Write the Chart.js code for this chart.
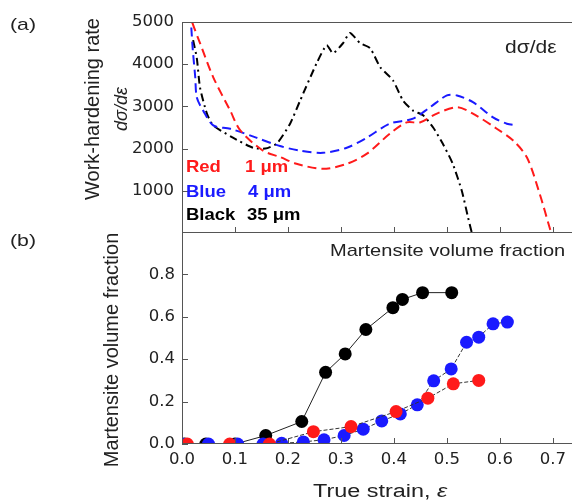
<!DOCTYPE html>
<html>
<head>
<meta charset="utf-8">
<script src="https://cdn.jsdelivr.net/npm/chart.js@4.4.1/dist/chart.umd.min.js"></script>
<style>
  body { margin: 0; background: #fff; }
  #wrap { position: relative; width: 572px; height: 503px; overflow: hidden; font-family: "Liberation Sans", Arial, sans-serif; color: #222; }
  canvas { position: absolute; left: 0; }
  .t { position: absolute; white-space: nowrap; line-height: 1; transform-origin: 0 0; }
  .wide { transform: scaleX(1.18); }
  .rot { transform: translate(-50%, -50%) rotate(-90deg); transform-origin: 50% 50%; }
  .leg { font-weight: bold; font-size: 16.5px; transform: scaleX(1.12); }
</style>
</head>
<body>
<div id="wrap">
  <canvas id="chart1" width="572" height="233" style="top:0px; width:572px; height:233px;"></canvas>
  <canvas id="chart2" width="572" height="282" style="top:221px; width:572px; height:282px;"></canvas>

  <div class="t" style="left:10px; top:16px; font-size:17px; transform:scaleX(1.25);">(a)</div>
  <div class="t" style="left:10px; top:232px; font-size:17px; transform:scaleX(1.25);">(b)</div>
  <div class="t rot" style="left:92px; top:109px; font-size:20px;">Work-hardening rate</div>
  <div class="t rot" style="left:121px; top:109px; font-size:18px; font-style:italic;">dσ/dε</div>
  <div class="t rot" style="left:111px; top:350px; font-size:20px;">Martensite volume fraction</div>
  <div class="t" style="left:505px; top:39px; font-size:17.5px; transform:scaleX(1.2);">dσ/dε</div>
  <div class="t wide" style="left:330px; top:242px; font-size:17px;">Martensite volume fraction</div>
  <div class="t" style="left:313px; top:482px; font-size:18px; transform:scaleX(1.3);">True strain, <i>ε</i></div>

  <div class="t leg" style="left:186px; top:158px; color:#ff1a1a;">Red</div>
  <div class="t leg" style="left:245px; top:158px; color:#ff1a1a;">1 μm</div>
  <div class="t leg" style="left:186px; top:183px; color:#1a1aff;">Blue</div>
  <div class="t leg" style="left:248px; top:183px; color:#1a1aff;">4 μm</div>
  <div class="t leg" style="left:186px; top:206px; color:#000;">Black</div>
  <div class="t leg" style="left:247px; top:206px; color:#000;">35 μm</div>
</div>

<script>
// (a) work-hardening rate curves
const redStrainA = [0.012, 0.019, 0.034, 0.059, 0.091, 0.11, 0.153, 0.185, 0.216, 0.266, 0.311, 0.349, 0.392, 0.424, 0.449, 0.481, 0.519, 0.549, 0.594, 0.625, 0.651, 0.675, 0.694, 0.70];
const redRate = [5300, 5000, 4500, 3690, 2900, 2430, 1950, 1800, 1640, 1520, 1640, 1880, 2350, 2620, 2620, 2830, 2980, 2830, 2470, 2190, 1790, 930, 120, -100];

const blueStrainA = [0.016, 0.02, 0.025, 0.028, 0.04, 0.059, 0.091, 0.14, 0.185, 0.223, 0.266, 0.311, 0.349, 0.392, 0.436, 0.468, 0.5, 0.519, 0.549, 0.587, 0.613, 0.632];
const blueRate = [5200, 4400, 3690, 3210, 2900, 2550, 2470, 2260, 2060, 1950, 1900, 2020, 2260, 2590, 2710, 2980, 3260, 3260, 3100, 2740, 2590, 2550];

const blackStrainA = [0.021, 0.028, 0.034, 0.047, 0.059, 0.096, 0.134, 0.157, 0.179, 0.204, 0.223, 0.254, 0.273, 0.285, 0.304, 0.317, 0.336, 0.355, 0.374, 0.398, 0.417, 0.436, 0.455, 0.474, 0.492, 0.511, 0.528, 0.540, 0.547];
const blackRate = [4570, 4140, 3450, 2830, 2550, 2260, 2020, 2000, 2120, 2590, 3140, 4020, 4450, 4260, 4500, 4740, 4500, 4380, 3930, 3620, 3140, 2900, 2790, 2500, 2120, 1640, 1000, 360, 0];

// (b) martensite volume fraction
const redStrainB = [0.01, 0.09, 0.165, 0.248, 0.319, 0.404, 0.464, 0.512, 0.560];
const redFrac = [0, 0, 0, 0.058, 0.082, 0.153, 0.216, 0.284, 0.30];

const blueStrainB = [0.0, 0.05, 0.105, 0.153, 0.188, 0.229, 0.268, 0.306, 0.342, 0.377, 0.412, 0.444, 0.475, 0.508, 0.537, 0.560, 0.587, 0.614];
const blueFrac = [0, 0, 0, 0, 0.003, 0.01, 0.02, 0.04, 0.07, 0.109, 0.142, 0.185, 0.298, 0.354, 0.48, 0.504, 0.567, 0.575];

const blackStrainB = [0.005, 0.045, 0.1, 0.158, 0.226, 0.271, 0.308, 0.347, 0.398, 0.416, 0.454, 0.509];
const blackFrac = [0, 0, 0, 0.04, 0.106, 0.338, 0.425, 0.540, 0.643, 0.682, 0.714, 0.714];

const xTicks = [0, 0.1, 0.2, 0.3, 0.4, 0.5, 0.6, 0.7];
const rateTicks = [1000, 2000, 3000, 4000, 5000];
const fracTicks = [0, 0.2, 0.4, 0.6, 0.8];

const X_MAX = 0.736;
const AXIS = "#555";
// wider face: the figure's labels are stretched sideways
const FONT = { family: "'DejaVu Sans', sans-serif", size: 16.5 };

function pts(xs, ys) {
  return xs.map((x, i) => ({ x: x, y: ys[i] }));
}

function setTicks(values) {
  return scale => { scale.ticks = values.map(v => ({ value: v })); };
}

function fixBox(w, h) {
  return s => {
    if (w) s.width = w;
    if (h) s.height = h;
    s.paddingTop = 0; s.paddingBottom = 0; s.paddingLeft = 0; s.paddingRight = 0;
  };
}

// short tick marks drawn inward + frame lines
function frame(yTicks, drawTop) {
  return {
    id: "frame",
    afterDraw(chart) {
      const c = chart.ctx, a = chart.chartArea;
      const len = 6;
      c.save();
      c.setLineDash([]);
      c.strokeStyle = AXIS;
      c.lineWidth = 1;
      c.beginPath();
      xTicks.forEach(v => {
        const px = Math.round(chart.scales.x.getPixelForValue(v)) + 0.5;
        c.moveTo(px, a.bottom);
        c.lineTo(px, a.bottom - len);
      });
      yTicks.forEach(v => {
        const py = Math.round(chart.scales.y.getPixelForValue(v)) + 0.5;
        c.moveTo(a.left, py);
        c.lineTo(a.left + len, py);
      });
      c.moveTo(a.left + 0.5, a.top);
      c.lineTo(a.left + 0.5, a.bottom);
      if (drawTop) {
        c.moveTo(a.left, a.top + 0.5);
        c.lineTo(a.right, a.top + 0.5);
      }
      c.moveTo(a.left, a.bottom - 0.5);
      c.lineTo(a.right, a.bottom - 0.5);
      c.stroke();
      c.restore();
    }
  };
}

const ctx1 = document.getElementById("chart1");
const ctx2 = document.getElementById("chart2");

var chart1 = new Chart(ctx1, {
  type: "line",
  data: {
    datasets: [
      {
        data: pts(redStrainA, redRate),
        borderColor: "#ff1a1a",
        borderWidth: 2,
        borderDash: [9, 5],
        pointRadius: 0,
        tension: 0.3,
      },
      {
        data: pts(blueStrainA, blueRate),
        borderColor: "#1a1aff",
        borderWidth: 2,
        borderDash: [9, 5],
        pointRadius: 0,
        tension: 0.3,
      },
      {
        data: pts(blackStrainA, blackRate),
        borderColor: "#000",
        borderWidth: 2,
        borderDash: [8, 4, 2, 4],
        pointRadius: 0,
        tension: 0.2,
      },
    ],
  },
  options: {
    responsive: false,
    animation: false,
    layout: { autoPadding: false, padding: { top: 22, bottom: 0, left: 0, right: 0 } },
    plugins: { legend: { display: false }, tooltip: { enabled: false } },
    scales: {
      x: {
        type: "linear",
        display: false,
        min: 0,
        max: X_MAX,
      },
      y: {
        min: 0,
        max: 5000,
        afterBuildTicks: setTicks(rateTicks),
        afterFit: fixBox(182, 0),
        grid: { display: false, drawTicks: false },
        border: { display: false },
        ticks: { color: "#222", font: FONT, padding: 8, callback: v => String(v) },
      },
    },
  },
  plugins: [frame(rateTicks, true)],
});

var chart2 = new Chart(ctx2, {
  type: "line",
  data: {
    datasets: [
      {
        data: pts(redStrainB, redFrac),
        borderColor: "#333",
        borderWidth: 1,
        borderDash: [4, 2],
        pointRadius: 6.5,
        pointBackgroundColor: "#ff1a1a",
        pointBorderWidth: 0,
      },
      {
        data: pts(blueStrainB, blueFrac),
        borderColor: "#333",
        borderWidth: 1,
        borderDash: [4, 2],
        pointRadius: 6.5,
        pointBackgroundColor: "#1a1aff",
        pointBorderWidth: 0,
      },
      {
        data: pts(blackStrainB, blackFrac),
        borderColor: "#222",
        borderWidth: 1,
        pointRadius: 6.5,
        pointBackgroundColor: "#000",
        pointBorderWidth: 0,
      },
    ],
  },
  options: {
    responsive: false,
    animation: false,
    layout: { autoPadding: false, padding: { top: 11, bottom: 0, left: 0, right: 0 } },
    plugins: { legend: { display: false }, tooltip: { enabled: false } },
    scales: {
      x: {
        type: "linear",
        min: 0,
        max: X_MAX,
        afterBuildTicks: setTicks(xTicks),
        afterFit: fixBox(0, 59),
        grid: { display: false, drawTicks: false },
        border: { display: false },
        ticks: { color: "#222", font: FONT, padding: 6, callback: v => v.toFixed(1) },
      },
      y: {
        min: 0,
        max: 1.0,
        afterBuildTicks: setTicks(fracTicks),
        afterFit: fixBox(182, 0),
        grid: { display: false, drawTicks: false },
        border: { display: false },
        ticks: { color: "#222", font: FONT, padding: 7, callback: v => v.toFixed(1) },
      },
    },
  },
  plugins: [frame(fracTicks, false)],
});
</script>
</body>
</html>
